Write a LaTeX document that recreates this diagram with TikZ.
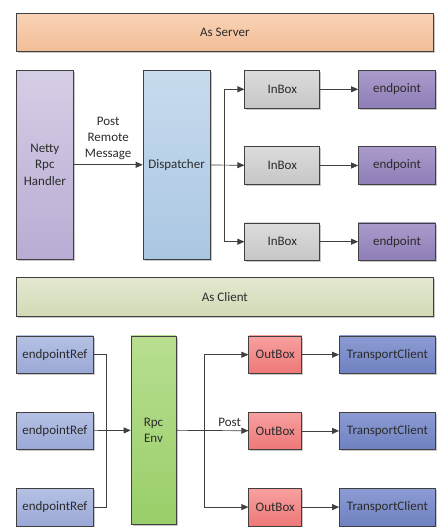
\documentclass[tikz,border=0pt]{standalone}
\usepackage{fontspec}
\setmainfont{Carlito}
\usetikzlibrary{arrows.meta, positioning, shadows}
\definecolor{edge}{HTML}{404040}
\definecolor{ink}{HTML}{2B2B2B}
\definecolor{srvtop}{HTML}{F9D3B6}\definecolor{srvbot}{HTML}{F2BD96}
\definecolor{clitop}{HTML}{E3E8D0}\definecolor{clibot}{HTML}{D2DAB6}
\definecolor{hndtop}{HTML}{D6CDE6}\definecolor{hndbot}{HTML}{B9ACD3}
\definecolor{dsptop}{HTML}{C8DBEE}\definecolor{dspbot}{HTML}{AAC7E2}
\definecolor{inbtop}{HTML}{DCDCDC}\definecolor{inbbot}{HTML}{C6C6C6}
\definecolor{eptop}{HTML}{AB9BCB}\definecolor{epbot}{HTML}{8E7DB7}
\definecolor{reftop}{HTML}{B5C1E4}\definecolor{refbot}{HTML}{9AA8D6}
\definecolor{envtop}{HTML}{B8DF90}\definecolor{envbot}{HTML}{99CE69}
\definecolor{obtop}{HTML}{F7A0A0}\definecolor{obbot}{HTML}{EE7878}
\definecolor{tctop}{HTML}{8C9BD2}\definecolor{tcbot}{HTML}{6F81C1}

\begin{document}
\begin{tikzpicture}[x=1pt, y=-1pt,
    box/.style={rectangle, draw=edge, line width=0.7pt, inner sep=1pt, align=center,
      font=\fontsize{13}{16.5}\selectfont, text=ink,
      drop shadow={shadow xshift=1.6pt, shadow yshift=-1.6pt, opacity=0.22, fill=black}},
    bar/.style={box, minimum width=417pt, minimum height=38.5pt},
    tall/.style={box, minimum height=188.5pt},
    small/.style={box, minimum height=37.5pt},
    arr/.style={-{Triangle[length=7pt, width=6pt]}, line width=0.7pt, edge},
    wire/.style={line width=0.7pt, edge},
    lab/.style={font=\fontsize{13}{16}\selectfont, text=ink, align=center},
  ]
  \useasboundingbox (0,0) rectangle (443,529);
  % server side
  \node[bar, top color=srvtop, bottom color=srvbot, anchor=north west] (srv) at (16,13) {As Server};
  \node[tall, minimum width=57pt, top color=hndtop, bottom color=hndbot,
    below right=18pt and 0pt of srv.south west] (handler) {Netty\\Rpc\\Handler};
  \node[tall, minimum width=67pt, top color=dsptop, bottom color=dspbot,
    right=69pt of handler] (disp) {Dispatcher};
  \node[small, minimum width=75pt, top color=inbtop, bottom color=inbbot,
    below right=0pt and 34pt of disp.north east] (in1) {InBox};
  \node[small, minimum width=75pt, top color=inbtop, bottom color=inbbot,
    below=38pt of in1] (in2) {InBox};
  \node[small, minimum width=75pt, top color=inbtop, bottom color=inbbot,
    below=38pt of in2] (in3) {InBox};
  \node[small, minimum width=77pt, top color=eptop, bottom color=epbot,
    right=38pt of in1] (ep1) {endpoint};
  \node[small, minimum width=77pt, top color=eptop, bottom color=epbot,
    right=38pt of in2] (ep2) {endpoint};
  \node[small, minimum width=77pt, top color=eptop, bottom color=epbot,
    right=38pt of in3] (ep3) {endpoint};
  % client side
  \node[bar, top color=clitop, bottom color=clibot,
    below right=18pt and 0pt of handler.south west] (cli) {As Client};
  \node[small, minimum width=77pt, top color=reftop, bottom color=refbot,
    below right=19pt and 0pt of cli.south west] (ref1) {endpointRef};
  \node[small, minimum width=77pt, top color=reftop, bottom color=refbot,
    below=38pt of ref1] (ref2) {endpointRef};
  \node[small, minimum width=77pt, top color=reftop, bottom color=refbot,
    below=38pt of ref2] (ref3) {endpointRef};
  \node[tall, minimum width=45pt, top color=envtop, bottom color=envbot,
    below right=0pt and 37pt of ref1.north east] (env) {Rpc\\Env};
  \node[small, minimum width=53pt, top color=obtop, bottom color=obbot,
    below right=0pt and 72pt of env.north east] (ob1) {OutBox};
  \node[small, minimum width=53pt, top color=obtop, bottom color=obbot,
    below=38pt of ob1] (ob2) {OutBox};
  \node[small, minimum width=53pt, top color=obtop, bottom color=obbot,
    below=38pt of ob2] (ob3) {OutBox};
  \node[small, minimum width=96pt, top color=tctop, bottom color=tcbot,
    right=37pt of ob1] (tc1) {TransportClient};
  \node[small, minimum width=96pt, top color=tctop, bottom color=tcbot,
    right=37pt of ob2] (tc2) {TransportClient};
  \node[small, minimum width=96pt, top color=tctop, bottom color=tcbot,
    right=37pt of ob3] (tc3) {TransportClient};
  % server flow
  \draw[arr] (handler) -- node[lab, above=1pt]{Post\\Remote\\Message} (disp);
  \coordinate[right=14pt of disp.east] (sfork);
  \draw[arr] (disp) -- (in2);
  \draw[arr] (sfork) |- (in1);
  \draw[arr] (sfork) |- (in3);
  \draw[arr] (in1) -- (ep1);
  \draw[arr] (in2) -- (ep2);
  \draw[arr] (in3) -- (ep3);
  % client flow
  \coordinate[right=13pt of ref2.east] (cjoin);
  \draw[wire] (ref1) -| (cjoin);
  \draw[wire] (ref3) -| (cjoin);
  \draw[arr] (ref2) -- (env);
  \coordinate[right=28pt of env.east] (cfork);
  \draw[arr] (env) -- node[lab, above=0pt, pos=0.74]{Post} (ob2);
  \draw[arr] (cfork) |- (ob1);
  \draw[arr] (cfork) |- (ob3);
  \draw[arr] (ob1) -- (tc1);
  \draw[arr] (ob2) -- (tc2);
  \draw[arr] (ob3) -- (tc3);
\end{tikzpicture}
\end{document}
